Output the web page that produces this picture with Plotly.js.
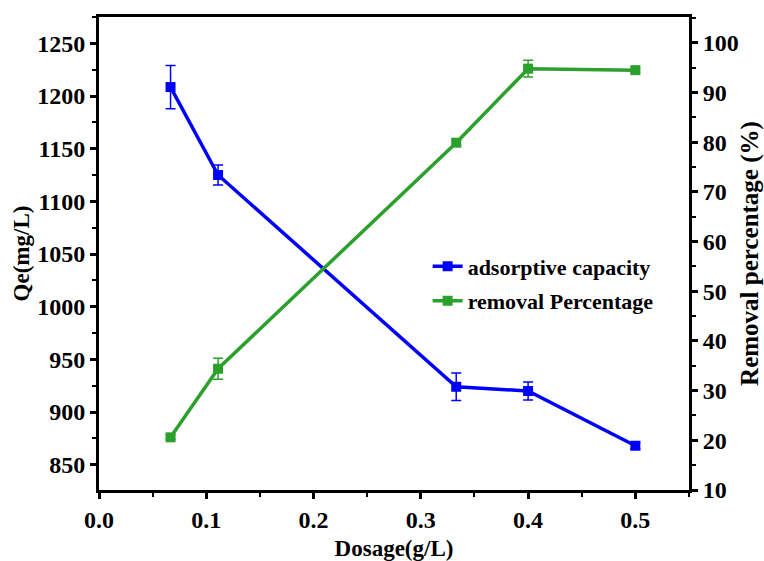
<!DOCTYPE html>
<html>
<head>
<meta charset="utf-8">
<script src="https://cdn.plot.ly/plotly-3.0.1.min.js"></script>
<style>html,body{margin:0;padding:0;background:#fff;}#chart{width:764px;height:561px;}</style>
</head>
<body>
<div id="chart"></div>
<script>
const dosage = [0.0667, 0.111, 0.333, 0.4, 0.5];
const qe = [1208.5, 1125, 924, 920, 868];
const qeErr = [20.5, 9.5, 13, 8.5, 3];
const removal = [20.6, 34.4, 79.9, 94.8, 94.5];
const removalErr = [0.4, 2.1, 0.5, 1.7, 0.4];
const seriesNames = ['adsorptive capacity', 'removal Percentage'];

const FONT = "'Liberation Serif', 'Times New Roman', serif";
const blue = '#0000ff';
const green = '#2ca02c';

const traces = [
  {
    x: dosage, y: qe, name: '<b>' + seriesNames[0] + '</b>', type: 'scatter', mode: 'lines+markers',
    line: {color: blue, width: 3.5},
    marker: {symbol: 'square', size: 10, color: blue},
    error_y: {type: 'data', array: qeErr, visible: true, color: blue, thickness: 1.5, width: 5},
    yaxis: 'y', legendgroup: 'a'
  },
  {
    x: dosage, y: removal, name: '<b>' + seriesNames[1] + '</b>', type: 'scatter', mode: 'lines+markers',
    line: {color: green, width: 3.5},
    marker: {symbol: 'square', size: 10, color: green},
    error_y: {type: 'data', array: removalErr, visible: true, color: green, thickness: 1.5, width: 5},
    yaxis: 'y2', legendgroup: 'b'
  }
];

function axisBase() {
  return {
    showline: true, linewidth: 3, linecolor: '#000',
    ticks: 'outside', ticklen: 6, tickwidth: 3, tickcolor: '#000',
    showgrid: false, zeroline: false,
    tickprefix: '<b>', ticksuffix: '</b>',
    tickfont: {family: FONT, size: 24, color: '#000'}
  };
}

const layout = {
  width: 764, height: 561,
  margin: {l: 99, r: 75, t: 17, b: 71},
  paper_bgcolor: '#fff', plot_bgcolor: '#fff',
  font: {family: FONT, color: '#000'},
  showlegend: true,
  legend: {
    x: 0.557, y: 0.517, xanchor: 'left', yanchor: 'top',
    bgcolor: 'rgba(0,0,0,0)', borderwidth: 0,
    font: {family: FONT, size: 22, color: '#000'},
    traceorder: 'grouped', tracegroupgap: 3
  },
  xaxis: Object.assign(axisBase(), {
    range: [0, 0.55], dtick: 0.1, tick0: 0, tickformat: '.1f', mirror: true,
    minor: {dtick: 0.05, ticklen: 4, tickwidth: 2, tickcolor: '#000', ticks: 'outside'},
    title: {text: '<b>Dosage(g/L)</b>', font: {family: FONT, size: 23, color: '#000'}, standoff: 12}
  }),
  yaxis: Object.assign(axisBase(), {
    range: [826, 1275], dtick: 50, tick0: 850,
    minor: {dtick: 25, ticklen: 4, tickwidth: 2, tickcolor: '#000', ticks: 'outside'},
    title: {text: '<b>Qe(mg/L)</b>', font: {family: FONT, size: 23, color: '#000'}, standoff: 2}
  }),
  yaxis2: Object.assign(axisBase(), {
    overlaying: 'y', side: 'right',
    range: [10, 105.2], dtick: 10, tick0: 10,
    minor: {dtick: 5, ticklen: 4, tickwidth: 2, tickcolor: '#000', ticks: 'outside'},
    title: {text: '<b>Removal percentage (%)</b>', font: {family: FONT, size: 25, color: '#000'}, standoff: 6}
  })
};

Plotly.newPlot('chart', traces, layout, {displayModeBar: false, staticPlot: true});
</script>
</body>
</html>
